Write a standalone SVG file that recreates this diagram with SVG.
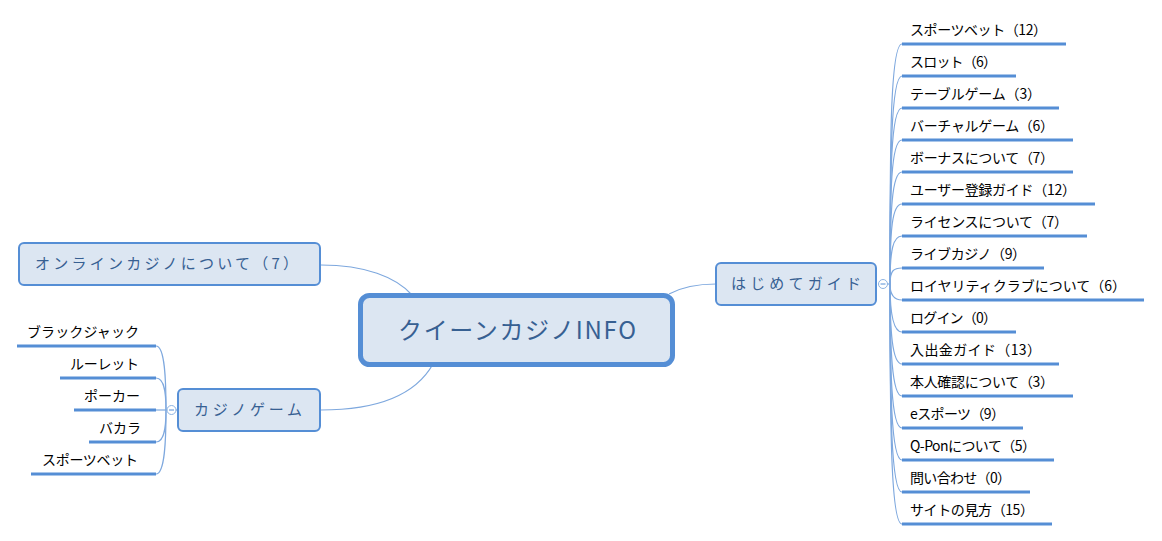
<svg xmlns="http://www.w3.org/2000/svg" width="1162" height="541" viewBox="0 0 1162 541">
<style>
text{font-family:"Noto Sans CJK JP","Noto Sans",sans-serif;fill:#000}
.leaf{font-size:14px}
.u{stroke:#558ed5;stroke-width:3;fill:none}
.c{stroke:#7ea8de;stroke-width:1.2;fill:none}
.box{fill:#dce6f2;stroke:#558ed5;stroke-width:2}
.t{fill:#376092;font-size:15px}
.col{fill:#fff;stroke:#8db3e2;stroke-width:1}
.m{stroke:#558ed5;stroke-width:1;fill:none}
</style>
<rect width="1162" height="541" fill="#fff"/>
<g id="connectors">
<path class="c" d="M321 265C365 265 396 277 412 295"/>
<path class="c" d="M321 410C375 410 415 396 433 364"/>
<path class="c" d="M669 294C682 287 695 284 716 284"/>
<path class="c" d="M883 284H890"/>
<path class="c" d="M890 284C890 150 890 44 902 44"/>
<path class="c" d="M890 284C890 160 891 76 902 76"/>
<path class="c" d="M890 284C890 170 891 108 902 108"/>
<path class="c" d="M890 284C890 190 891 140 902 140"/>
<path class="c" d="M890 284C890 210 892 172 902 172"/>
<path class="c" d="M890 284C890 230 892 204 902 204"/>
<path class="c" d="M890 284C890 250 893 236 902 236"/>
<path class="c" d="M890 284C890 270 894 268 902 268"/>
<path class="c" d="M890 284C890 292 892 300 902 300"/>
<path class="c" d="M890 284C890 310 893 332 902 332"/>
<path class="c" d="M890 284C890 330 892 364 902 364"/>
<path class="c" d="M890 284C890 350 892 396 902 396"/>
<path class="c" d="M890 284C890 370 891 428 902 428"/>
<path class="c" d="M890 284C890 390 891 460 902 460"/>
<path class="c" d="M890 284C890 410 891 492 902 492"/>
<path class="c" d="M890 284C890 430 891 524 902 524"/>
<path class="c" d="M178 410H166"/>
<path class="c" d="M166 410C166 380 165 346 156 346"/>
<path class="c" d="M166 410C166 395 165 378 156 378"/>
<path class="c" d="M166 410H156"/>
<path class="c" d="M166 410C166 425 165 442 156 442"/>
<path class="c" d="M166 410C166 440 165 474 156 474"/>
</g>
<g id="root"><rect x="360.500" y="295.500" width="312" height="69" rx="9" fill="#dce6f2" stroke="#558ed5" stroke-width="5"/><text x="398" y="339" font-size="24" fill="#376092" style="fill:#376092" textLength="238">クイーンカジノINFO</text></g>
<g id="about"><rect class="box" x="19" y="243" width="301" height="42" rx="5"/><text class="t" x="35" y="269" textLength="263">オンラインカジノについて（7）</text></g>
<g id="game"><rect class="box" x="178" y="389" width="142" height="42" rx="5"/><text class="t" x="194" y="415" textLength="108">カジノゲーム</text><circle class="col" cx="171.500" cy="410" r="4.500"/><path class="m" d="M169 410H174"/></g>
<g id="guide"><rect class="box" x="716" y="263" width="160" height="42" rx="5"/><text class="t" x="731" y="289" textLength="130">はじめてガイド</text><circle class="col" cx="883" cy="284" r="4.500"/><path class="m" d="M880.500 284H885.500"/></g>
<g id="g1"><path class="u" d="M17 346H156"/><text class="leaf" x="27" y="337" textLength="112">ブラックジャック</text></g>
<g id="g2"><path class="u" d="M60 378H156"/><text class="leaf" x="70" y="369" textLength="69">ルーレット</text></g>
<g id="g3"><path class="u" d="M74 410H156"/><text class="leaf" x="84" y="401" textLength="56">ポーカー</text></g>
<g id="g4"><path class="u" d="M89 442H156"/><text class="leaf" x="99" y="433" textLength="42">バカラ</text></g>
<g id="g5"><path class="u" d="M31 474H156"/><text class="leaf" x="42" y="465" textLength="96">スポーツベット</text></g>
<g id="r1"><path class="u" d="M902 44H1066"/><text class="leaf" x="910" y="35" textLength="137">スポーツベット（12）</text></g>
<g id="r2"><path class="u" d="M902 76H1016"/><text class="leaf" x="910" y="67" textLength="87">スロット（6）</text></g>
<g id="r3"><path class="u" d="M902 108H1059"/><text class="leaf" x="910" y="99" textLength="131">テーブルゲーム（3）</text></g>
<g id="r4"><path class="u" d="M902 140H1073"/><text class="leaf" x="910" y="131" textLength="144">バーチャルゲーム（6）</text></g>
<g id="r5"><path class="u" d="M902 172H1073"/><text class="leaf" x="910" y="163" textLength="144">ボーナスについて（7）</text></g>
<g id="r6"><path class="u" d="M902 204H1095"/><text class="leaf" x="910" y="195" textLength="166">ユーザー登録ガイド（12）</text></g>
<g id="r7"><path class="u" d="M902 236H1087"/><text class="leaf" x="910" y="227" textLength="158">ライセンスについて（7）</text></g>
<g id="r8"><path class="u" d="M902 268H1044"/><text class="leaf" x="910" y="259" textLength="116">ライブカジノ（9）</text></g>
<g id="r9"><path class="u" d="M902 300H1144"/><text class="leaf" x="910" y="291" textLength="216">ロイヤリティクラブについて（6）</text></g>
<g id="r10"><path class="u" d="M902 332H1016"/><text class="leaf" x="910" y="323" textLength="87">ログイン（0）</text></g>
<g id="r11"><path class="u" d="M902 364H1059"/><text class="leaf" x="910" y="355" textLength="131">入出金ガイド（13）</text></g>
<g id="r12"><path class="u" d="M902 396H1073"/><text class="leaf" x="910" y="387" textLength="144">本人確認について（3）</text></g>
<g id="r13"><path class="u" d="M902 428H1023"/><text class="leaf" x="910" y="419" textLength="95">eスポーツ（9）</text></g>
<g id="r14"><path class="u" d="M902 460H1054"/><text class="leaf" x="910" y="451" textLength="126">Q-Ponについて（5）</text></g>
<g id="r15"><path class="u" d="M902 492H1030"/><text class="leaf" x="910" y="483" textLength="101">問い合わせ（0）</text></g>
<g id="r16"><path class="u" d="M902 524H1052"/><text class="leaf" x="910" y="515" textLength="124">サイトの見方（15）</text></g>
</svg>
